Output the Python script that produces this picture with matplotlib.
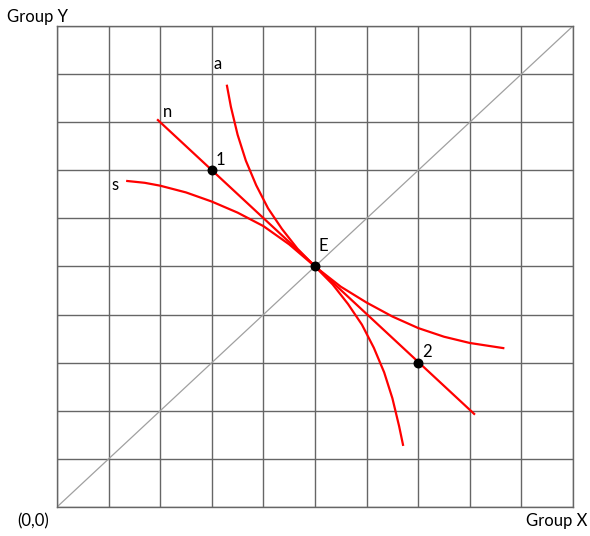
import matplotlib
matplotlib.use('Agg')
import matplotlib.pyplot as plt

# straight line n through points 1, E, 2
n_x = [1.94, 8.10]
n_y = [8.06, 1.92]

# curve a (steep)
a_x = [3.29, 3.37, 3.50, 3.66, 3.86, 4.09, 4.36, 4.66, 5.00, 5.34, 5.64, 5.91, 6.14, 6.34, 6.50, 6.63, 6.71]
a_y = [8.78, 8.32, 7.74, 7.20, 6.69, 6.21, 5.78, 5.37, 5.00, 4.63, 4.22, 3.79, 3.31, 2.80, 2.26, 1.68, 1.27]

# curve s (flat)
s_x = [1.34, 1.70, 2.00, 2.50, 3.00, 3.50, 4.00, 4.50, 5.00, 5.50, 6.00, 6.50, 7.00, 7.50, 8.00, 8.67]
s_y = [6.78, 6.74, 6.68, 6.54, 6.35, 6.12, 5.84, 5.46, 5.00, 4.58, 4.25, 3.96, 3.72, 3.54, 3.41, 3.30]

# labelled points
pt_x = [3, 5, 7]
pt_y = [7, 5, 3]
pt_labels = ['1', 'E', '2']
pt_offsets = [(2.4, 3.6), (2.2, 11.5), (3.0, 4.3)]  # points

# curve name labels
curve_labels = ['n', 'a', 's']
curve_lab_x = [2.05, 3.04, 1.05]
curve_lab_y = [8.11, 9.11, 6.59]

fs = 12
font = 'Lato'

fig = plt.figure(figsize=(5.9, 5.36), dpi=100)
ax = fig.add_axes([0.0966, 0.0541, 0.8746, 0.8974])
ax.set_xlim(0, 10)
ax.set_ylim(0, 10)
ax.set_xticks(range(11))
ax.set_yticks(range(11))
ax.grid(True, color='#666666', linewidth=1.0)
ax.tick_params(length=0, labelbottom=False, labelleft=False)
for sp in ax.spines.values():
    sp.set_color('#666666')
    sp.set_linewidth(1.0)

# 45 degree line
ax.plot([0, 10], [0, 10], color='#a0a0a0', linewidth=0.9, zorder=2)

red = '#ff0000'
for xs, ys in [(n_x, n_y), (a_x, a_y), (s_x, s_y)]:
    ax.plot(xs, ys, color=red, linewidth=1.6, zorder=3,
            solid_joinstyle='round', solid_capstyle='butt')

ax.scatter(pt_x, pt_y, s=38, color='black', zorder=4)
for x, y, t, off in zip(pt_x, pt_y, pt_labels, pt_offsets):
    ax.annotate(t, (x, y), xytext=off, textcoords='offset points',
                fontsize=fs, family=font, ha='left', va='baseline')

for t, x, y in zip(curve_labels, curve_lab_x, curve_lab_y):
    ax.text(x, y, t, fontsize=fs, family=font, ha='left', va='baseline')

fig.text(7 / 590, 1 - 22 / 536, 'Group Y', fontsize=fs, family=font, ha='left', va='baseline')
fig.text(17 / 590, 1 - 526 / 536, '(0,0)', fontsize=fs, family=font, ha='left', va='baseline')
fig.text(587 / 590, 1 - 526 / 536, 'Group X', fontsize=fs, family=font, ha='right', va='baseline')

fig.savefig('out.png', dpi=100)
